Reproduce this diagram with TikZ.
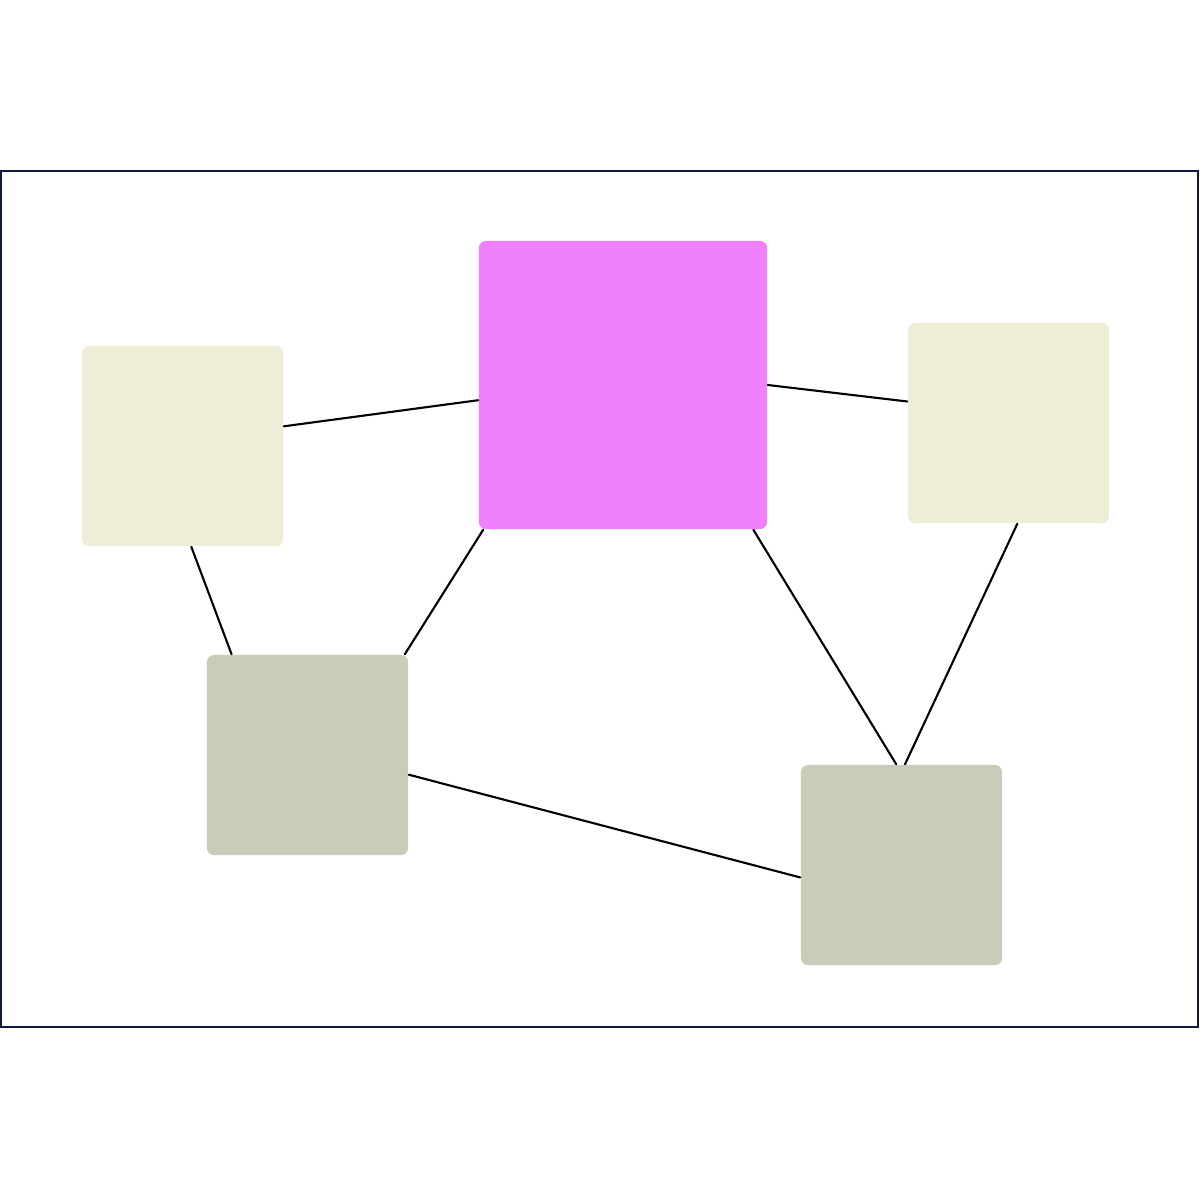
\documentclass[tikz,border=0pt]{standalone}
\usetikzlibrary{positioning}
\definecolor{framecol}{HTML}{0F1B36}
\definecolor{hubcol}{HTML}{F080FB}
\definecolor{palecol}{HTML}{EEEED8}
\definecolor{greycol}{HTML}{CACBB8}
\begin{document}
\begin{tikzpicture}[x=0.01cm,y=-0.01cm,line cap=round]
        % Styles
        \tikzset{box/.style={rectangle,rounded corners=2pt,inner sep=0pt,minimum width=2.01cm,minimum height=2.00cm}}
        \tikzset{hub/.style={box,fill=hubcol,minimum width=2.88cm,minimum height=2.88cm}}
        \tikzset{pale/.style={box,fill=palecol}}
        \tikzset{grey/.style={box,fill=greycol}}
        \tikzset{link/.style={black,line width=0.6pt}}
        \useasboundingbox (0,0) rectangle (1200,1200);
        %frame
        \draw[framecol,line width=0.6pt] (1,171) rectangle (1198,1027);
        %boxes
        \node[hub]  (centre)     at (623,385)   {};
        \node[pale] (paleleft)   at (182.5,446) {};
        \node[pale] (paleright)  at (1008.5,423) {};
        \node[grey] (greyleft)   at (307.5,755) {};
        \node[grey] (greyright)  at (901.5,865) {};
        %links
        \draw[link] (paleleft.11.8)   -- (centre.186.7);
        \draw[link] (centre.-0.4)     -- (paleright.168.2);
        \draw[link] (paleleft.-85.7)  -- (greyleft.127.4);
        \draw[link] (centre.226.2)    -- (greyleft.46.9);
        \draw[link] (centre.-48.6)    -- (greyright.93.7);
        \draw[link] (paleright.-85.1) -- (greyright.88.6);
        \draw[link] (greyleft.-11.8)  -- (greyright.187.4);
\end{tikzpicture}
\end{document}
